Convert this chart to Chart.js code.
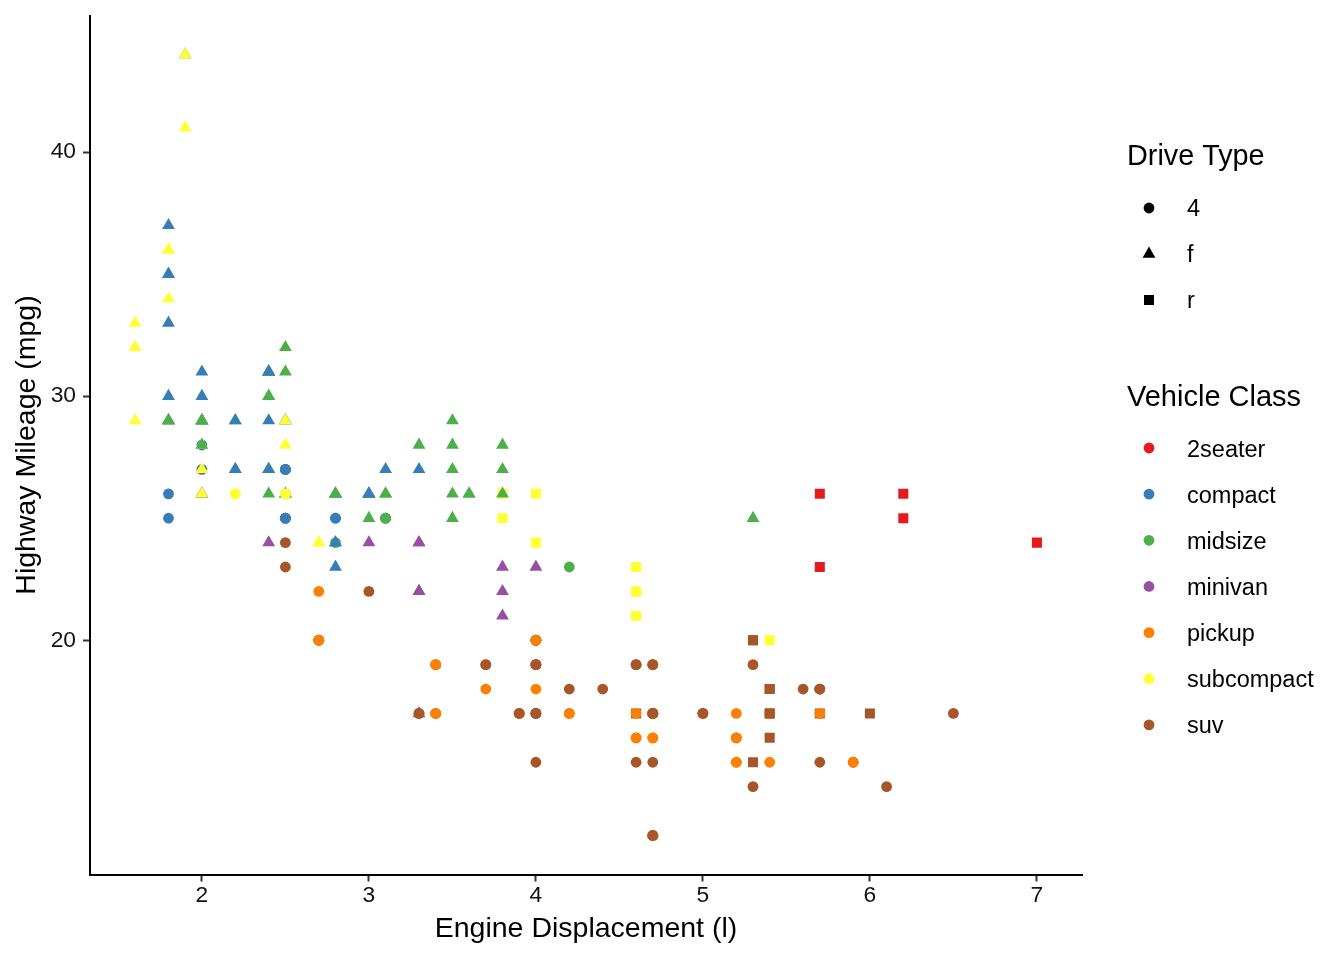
<!DOCTYPE html>
<html>
<head>
<meta charset="utf-8">
<script src="https://cdn.jsdelivr.net/npm/chart.js@4.4.1/dist/chart.umd.min.js"></script>
<style>
  html, body { margin: 0; padding: 0; background: #fff; }
  #wrap { width: 1344px; height: 960px; }
</style>
</head>
<body>
<div id="wrap"><canvas id="c" width="1344" height="960"></canvas></div>
<script>
// ---- Data (mpg: engine displacement vs highway mileage), in row order ----
const displ = [1.8,1.8,2.0,2.0,2.8,2.8,3.1, 1.8,1.8,2.0,2.0,2.8,2.8,3.1,3.1, 2.8,3.1,4.2, 5.3,5.3,5.3,5.7,6.0,
  5.7,5.7,6.2,6.2,7.0, 5.3,5.3,5.7,6.5, 2.4,2.4,3.1,3.5,3.6, 2.4,3.0,3.3,3.3,3.3,3.3,3.3,3.8,3.8,3.8,4.0,
  3.7,3.7,3.9,3.9,4.7,4.7,4.7,5.2,5.2, 3.9,4.7,4.7,4.7,5.2,5.7,5.9, 4.7,4.7,4.7,4.7,4.7,4.7,5.2,5.2,5.7,5.9,
  4.6,5.4,5.4, 4.0,4.0,4.0,4.0,4.6,5.0, 4.2,4.2,4.6,4.6,4.6,5.4,5.4, 3.8,3.8,4.0,4.0,4.6,4.6,4.6,4.6,5.4,
  1.6,1.6,1.6,1.6,1.6,1.8,1.8,1.8,2.0, 2.4,2.4,2.4,2.4,2.5,2.5,3.3, 2.0,2.0,2.0,2.0,2.7,2.7,2.7,
  3.0,3.7,4.0,4.7,4.7,4.7,5.7,6.1, 4.0,4.2,4.4,4.6, 5.4,5.4,5.4, 4.0,4.0,4.6,5.0, 2.4,2.4,2.5,2.5,3.5,3.5,
  3.0,3.0,3.5, 3.3,3.3,4.0,5.6, 3.1,3.8,3.8,3.8,5.3, 2.5,2.5,2.5,2.5,2.5,2.5, 2.2,2.2,2.5,2.5,2.5,2.5,2.5,2.5,
  2.7,2.7,3.4,3.4,4.0,4.7, 2.2,2.2,2.4,2.4,3.0,3.0,3.5, 2.2,2.2,2.4,2.4,3.0,3.0,3.3, 1.8,1.8,1.8,1.8,1.8,
  4.7,5.7, 2.7,2.7,2.7,3.4,3.4,4.0,4.0, 2.0,2.0,2.0,2.0,2.8, 1.9,2.0,2.0,2.0,2.0,2.5,2.5,2.8,2.8,
  1.9,1.9,2.0,2.0,2.5,2.5, 1.8,1.8,2.0,2.0,2.8,2.8,3.6];

const hwy = [29,29,31,30,26,26,27, 26,25,28,27,25,25,25,25, 24,25,23, 20,15,20,17,17,
  26,23,26,25,24, 19,14,15,17, 27,30,26,29,26, 24,24,22,22,24,24,17,22,21,23,23,
  19,18,17,17,19,19,12,17,15, 17,17,12,17,16,18,15, 16,12,17,17,16,12,15,16,17,15,
  17,17,18, 17,19,17,19,19,17, 17,17,16,16,17,15,17, 26,25,26,24,21,22,23,22,20,
  33,32,32,29,32,34,36,36,29, 26,27,30,31,26,26,28, 26,29,28,27,24,24,24,
  22,19,20,17,12,19,18,14, 15,18,18,15, 17,16,18, 17,19,19,17, 29,27,31,32,27,26,
  26,25,25, 17,17,20,18, 26,26,27,28,25, 25,24,27,25,26,23, 26,26,26,26,27,25,27,25,
  20,20,19,17,20,17, 29,27,31,31,26,26,28, 27,29,31,31,26,26,27, 30,33,35,37,35,
  15,18, 20,20,22,17,19,18,20, 29,26,29,29,24, 44,29,26,29,29,29,29,23,24,
  44,41,29,26,28,29, 29,29,28,29,26,26,26];

const drv = [
  'f','f','f','f','f','f','f',
  '4','4','4','4','4','4','4','4',
  '4','4','4',
  'r','r','r','r','r',
  'r','r','r','r','r',
  '4','4','4','4',
  'f','f','f','f','f',
  'f','f','f','f','f','f','f','f','f','f','f',
  '4','4','4','4','4','4','4','4','4',
  '4','4','4','4','4','4','4',
  '4','4','4','4','4','4','4','4','4','4',
  'r','r','r',
  '4','4','4','4','4','4',
  '4','4','4','4','4','4','4',
  'r','r','r','r','r','r','r','r','r',
  'f','f','f','f','f','f','f','f','f',
  'f','f','f','f','f','f','f',
  'f','f','f','f','f','f','f',
  '4','4','4','4','4','4','4','4',
  '4','4','4','4',
  'r','r','r',
  '4','4','4','4',
  'f','f','f','f','f','f',
  'f','f','f',
  '4','4','4','4',
  'f','f','f','f','f',
  '4','4','4','4','4','4',
  '4','4','4','4','4','4','4','4',
  '4','4','4','4','4','4',
  'f','f','f','f','f','f','f',
  'f','f','f','f','f','f','f',
  'f','f','f','f','f',
  '4','4',
  '4','4','4','4','4','4','4',
  'f','f','f','f','f',
  'f','f','f','f','f','f','f','f','f',
  'f','f','f','f','f','f',
  'f','f','f','f','f','f','f'
];

// class index into classNames
const classNames = ['2seater','compact','midsize','minivan','pickup','subcompact','suv'];
const classIdx = [1,1,1,1,1,1,1, 1,1,1,1,1,1,1,1, 2,2,2, 6,6,6,6,6, 0,0,0,0,0, 6,6,6,6, 2,2,2,2,2,
  3,3,3,3,3,3,3,3,3,3,3, 4,4,4,4,4,4,4,4,4, 6,6,6,6,6,6,6, 4,4,4,4,4,4,4,4,4,4, 6,6,6, 6,6,6,6,6,6,
  4,4,4,4,4,4,4, 5,5,5,5,5,5,5,5,5, 5,5,5,5,5,5,5,5,5, 2,2,2,2,2,2,2, 5,5,5,5,5,5,5,
  6,6,6,6,6,6,6,6, 6,6,6,6, 6,6,6, 6,6,6,6, 1,1,2,2,2,2, 2,2,2, 6,6,6,6, 2,2,2,2,2,
  6,6,6,6,6,6, 5,5,5,5,1,1,1,1, 6,6,6,6,6,6, 2,2,2,2,2,2,2, 1,1,1,1,1,1,1, 1,1,1,1,1,
  6,6, 4,4,4,4,4,4,4, 1,1,1,1,1, 1,1,1,1,1,1,1,1,1, 5,5,5,5,5,5, 2,2,2,2,2,2,2];

const driveLabels = ['4','f','r'];
const xTicks = [2,3,4,5,6,7];
const yTicks = [20,30,40];

// ---- Styles ----
const classColors = ['#E41A1C','#377EB8','#4DAF4A','#984EA3','#FF7F00','#FFFF33','#A65628'];
const shapeOf = { '4': 'circle', 'f': 'triangle', 'r': 'rect' };
const radiusOf = { circle: 5.4, triangle: 7.4, rect: 7.1 };
const FONT = '"Liberation Sans", Arial, Helvetica, sans-serif';
const TXT = '#111';

const points = displ.map((d, i) => ({ x: d, y: hwy[i] }));

function drawShape(c, shape, x, y, color) {
  const r = radiusOf[shape];
  c.fillStyle = color;
  c.beginPath();
  if (shape === 'circle') {
    c.arc(x, y, r, 0, Math.PI * 2);
  } else if (shape === 'triangle') {
    let a = 0;
    c.moveTo(x + Math.sin(a) * r, y - Math.cos(a) * r);
    a += 2 * Math.PI / 3;
    c.lineTo(x + Math.sin(a) * r, y - Math.cos(a) * r);
    a += 2 * Math.PI / 3;
    c.lineTo(x + Math.sin(a) * r, y - Math.cos(a) * r);
    c.closePath();
  } else {
    const s = Math.SQRT1_2 * r;
    c.rect(x - s, y - s, 2 * s, 2 * s);
  }
  c.fill();
}

const ggExtras = {
  id: 'ggExtras',
  afterDraw(chart) {
    const c = chart.ctx;
    const a = chart.chartArea;
    c.save();
    c.fillStyle = '#000';
    c.textBaseline = 'alphabetic';
    // axis titles
    c.font = '28.5px ' + FONT;
    c.textAlign = 'center';
    c.fillText('Engine Displacement (l)', (a.left + a.right) / 2, 937);
    c.save();
    c.translate(35, (a.top + a.bottom) / 2);
    c.rotate(-Math.PI / 2);
    c.fillText('Highway Mileage (mpg)', 0, 0);
    c.restore();

    // legend: Drive Type
    c.textAlign = 'left';
    c.font = '28.8px ' + FONT;
    c.fillStyle = '#000';
    c.fillText('Drive Type', 1127, 165);
    driveLabels.forEach((lab, i) => {
      const y = 208 + i * 46;
      drawShape(c, shapeOf[lab], 1149, y, '#000');
      c.fillStyle = '#000';
      c.font = '23.5px ' + FONT;
      c.fillText(lab, 1187, y + 8);
    });

    // legend: Vehicle Class
    c.font = '29px ' + FONT;
    c.fillStyle = '#000';
    c.fillText('Vehicle Class', 1127, 406);
    classNames.forEach((name, i) => {
      const y = 448 + i * 46.15;
      drawShape(c, 'circle', 1149, y, classColors[i]);
      c.fillStyle = '#000';
      c.font = '23.5px ' + FONT;
      c.fillText(name, 1187, y + 8.5);
    });
    c.restore();
  }
};

new Chart(document.getElementById('c'), {
  type: 'scatter',
  data: {
    datasets: [{
      data: points,
      pointStyle: ctx => shapeOf[drv[ctx.dataIndex]],
      pointRadius: ctx => radiusOf[shapeOf[drv[ctx.dataIndex]]],
      pointHoverRadius: ctx => radiusOf[shapeOf[drv[ctx.dataIndex]]],
      pointBackgroundColor: ctx => classColors[classIdx[ctx.dataIndex]],
      pointBorderWidth: 0,
      pointBorderColor: 'rgba(0,0,0,0)'
    }]
  },
  options: {
    responsive: false,
    animation: false,
    devicePixelRatio: 1,
    layout: { padding: { left: 0, top: 15.5, right: 262, bottom: 0 } },
    plugins: { legend: { display: false }, tooltip: { enabled: false } },
    events: [],
    scales: {
      x: {
        type: 'linear',
        min: 1.33, max: 7.27,
        afterBuildTicks: s => { s.ticks = xTicks.map(v => ({ value: v })); },
        afterFit: s => { s.height = 85.5; s.paddingLeft = 0; s.paddingRight = 0; },
        grid: { drawOnChartArea: false, drawTicks: true, tickLength: 7, tickWidth: 2, tickColor: '#333' },
        border: { display: true, color: '#000', width: 2 },
        ticks: { color: TXT, font: { family: FONT, size: 22.8 }, padding: 1, maxRotation: 0, autoSkip: false,
                 callback: v => String(v) }
      },
      y: {
        type: 'linear',
        min: 10.4, max: 45.6,
        afterBuildTicks: s => { s.ticks = yTicks.map(v => ({ value: v })); },
        afterFit: s => { s.width = 90; s.paddingTop = 0; s.paddingBottom = 0; },
        grid: { drawOnChartArea: false, drawTicks: true, tickLength: 7, tickWidth: 2, tickColor: '#333' },
        border: { display: true, color: '#000', width: 2 },
        ticks: { color: TXT, font: { family: FONT, size: 22.8 }, padding: 7, autoSkip: false,
                 callback: v => String(v) }
      }
    }
  },
  plugins: [ggExtras]
});
</script>
</body>
</html>
